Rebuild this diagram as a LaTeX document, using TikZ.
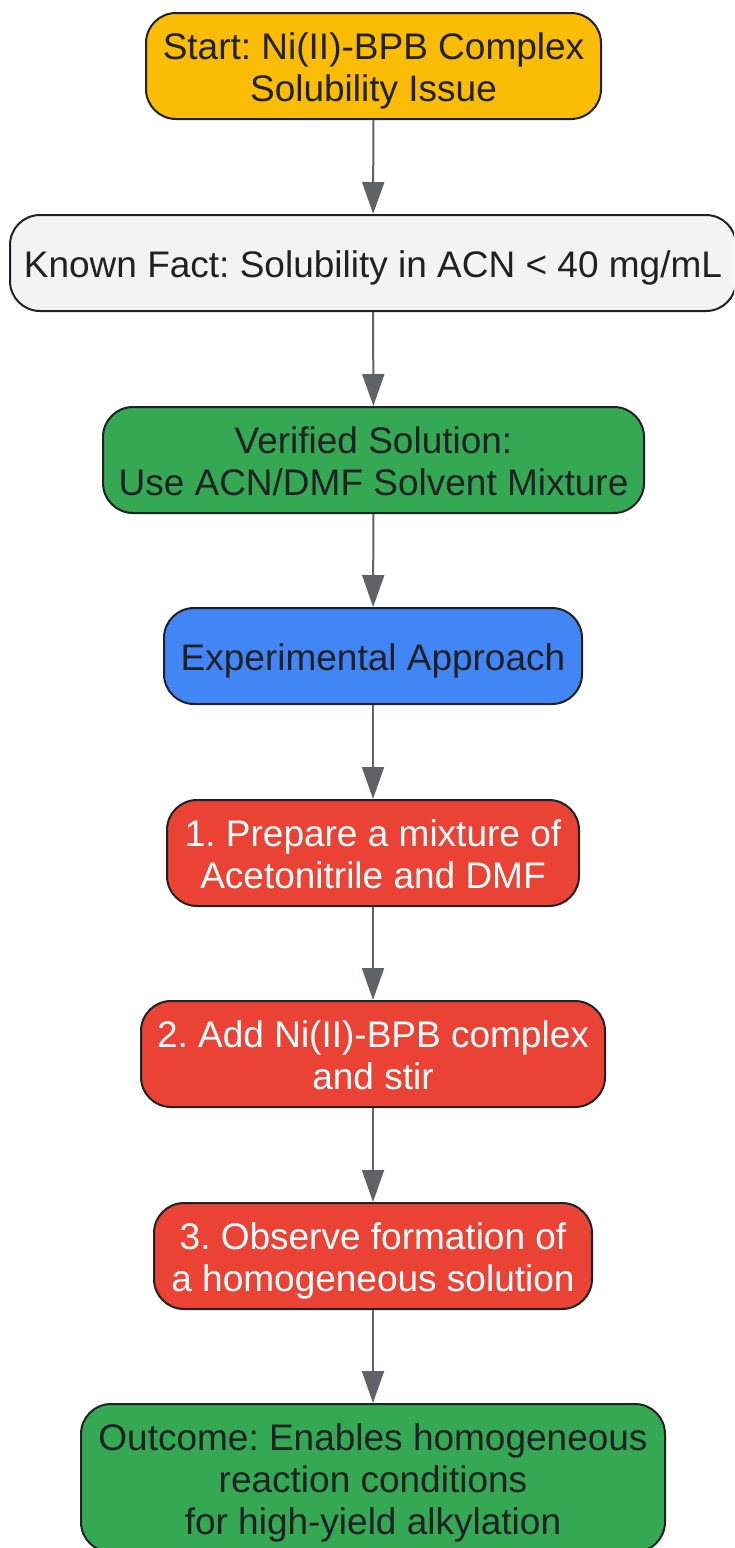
\documentclass[tikz,border=0pt]{standalone}
\usepackage{fontspec}
\setmainfont{Liberation Sans}
\usetikzlibrary{arrows.meta}
\frenchspacing
\definecolor{cyellow}{HTML}{FBBC05}
\definecolor{cgray}{HTML}{F1F3F4}
\definecolor{cgreen}{HTML}{34A853}
\definecolor{cblue}{HTML}{4285F4}
\definecolor{cred}{HTML}{EA4335}
\definecolor{carrow}{HTML}{5F6368}
\definecolor{cborder}{HTML}{202124}
\newcommand{\hs}{\rule{0pt}{38pt}}
\newcommand{\ds}{\rule[-8.4pt]{0pt}{8.4pt}}
\begin{document}
\begin{tikzpicture}[x=1pt,y=1pt,
  box/.style={draw=cborder, line width=2pt, rounded corners=30pt, align=center,
    inner sep=0pt, text=cborder, font=\fontsize{37}{42}\selectfont\frenchspacing},
  whitetext/.style={text=white},
  conn/.style={draw=carrow, line width=2pt, -{Triangle[width=22pt,length=32pt]}}]
\clip (0,0) rectangle (734,-1548);
\useasboundingbox (0,0) rectangle (734,-1548);
\node[box, fill=cyellow, minimum width=455pt, minimum height=106pt] (n1) at (373.5,-66) {\hs Start: Ni(II)-BPB Complex\\Solubility Issue\ds};
\node[box, fill=cgray, minimum width=726pt, minimum height=96pt] (n2) at (373,-263) {\hs Known Fact: Solubility in ACN < 40 mg/mL\ds};
\node[box, fill=cgreen, minimum width=541pt, minimum height=106pt] (n3) at (373.5,-460) {\hs Verified Solution:\\Use ACN/DMF Solvent Mixture\ds};
\node[box, fill=cblue, minimum width=418pt, minimum height=96pt] (n4) at (373,-656) {\hs Experimental Approach\ds};
\node[box, whitetext, fill=cred, minimum width=412pt, minimum height=106pt] (n5) at (373,-853) {\hs 1. Prepare a mixture of\\Acetonitrile and DMF\ds};
\node[box, whitetext, fill=cred, minimum width=464pt, minimum height=106pt] (n6) at (373,-1054) {\hs 2. Add Ni(II)-BPB complex\\and stir\ds};
\node[box, whitetext, fill=cred, minimum width=438pt, minimum height=106pt] (n7) at (373,-1256) {\hs 3. Observe formation of\\a homogeneous solution\ds};
\node[box, fill=cgreen, minimum width=584pt, minimum height=148pt] (n8) at (373,-1478) {\hs Outcome: Enables homogeneous\\reaction conditions\\for high-yield alkylation\ds};
\draw[conn] (n1) -- (n2);
\draw[conn] (n2) -- (n3);
\draw[conn] (n3) -- (n4);
\draw[conn] (n4) -- (n5);
\draw[conn] (n5) -- (n6);
\draw[conn] (n6) -- (n7);
\draw[conn] (n7) -- (n8);
\end{tikzpicture}
\end{document}
